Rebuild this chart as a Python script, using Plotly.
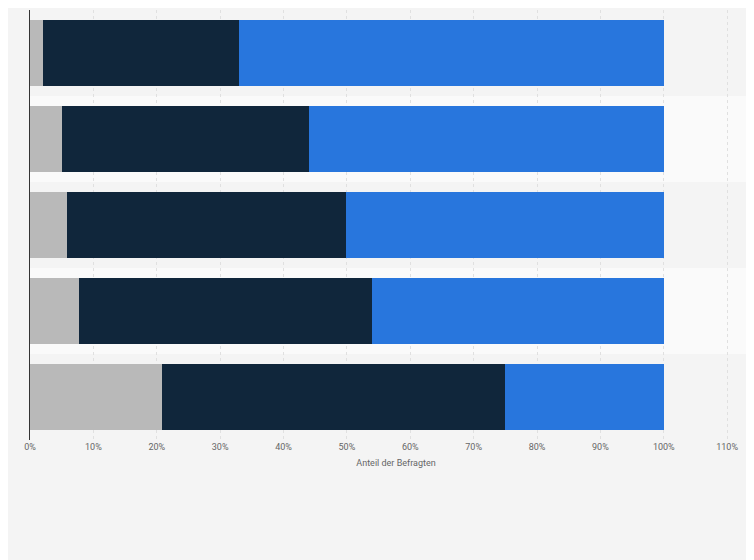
import plotly.graph_objects as go

categories = ["Gruppe 1", "Gruppe 2", "Gruppe 3", "Gruppe 4", "Gruppe 5"]
gray_vals = [2.1, 5.1, 5.9, 7.8, 20.9]
navy_vals = [30.9, 38.9, 44.0, 46.2, 54.1]
blue_vals = [67.0, 56.0, 50.1, 46.0, 25.0]
tick_vals = [0, 10, 20, 30, 40, 50, 60, 70, 80, 90, 100, 110]
tick_text = [f"{v}%" for v in tick_vals]

fig = go.Figure()
for vals, col in [(gray_vals, "#b9b9b9"), (navy_vals, "#10263b"), (blue_vals, "#2876dd")]:
    fig.add_trace(go.Bar(y=categories, x=vals, orientation="h", marker_color=col,
                         marker_line_width=0, width=0.77, showlegend=False))

shapes = []
for i in range(len(categories)):
    shapes.append(dict(type="rect", xref="paper", yref="y", x0=0, x1=1,
                       y0=i - 0.5, y1=i + 0.5, layer="below", line_width=0,
                       fillcolor="#fafafa" if i % 2 == 1 else "#f4f4f4"))

fig.update_layout(
    barmode="stack", width=754, height=560,
    paper_bgcolor="#f4f4f4", plot_bgcolor="#f4f4f4",
    margin=dict(l=22, r=0, t=2, b=128, autoexpand=False),
    shapes=shapes, bargap=0.23,
    xaxis=dict(range=[0, 115.5], tickvals=tick_vals, ticktext=tick_text,
               showgrid=True, gridcolor="#e0e0e0", griddash="dot", zeroline=False,
               tickfont=dict(family="Roboto", size=9, color="#666"),
               title=dict(text="Anteil der Befragten", font=dict(family="Roboto", size=9, color="#666"), standoff=8)),
    yaxis=dict(autorange="reversed", showticklabels=False, showline=True,
               linecolor="#333", linewidth=1, showgrid=False),
)
fig.write_html("out.html")
